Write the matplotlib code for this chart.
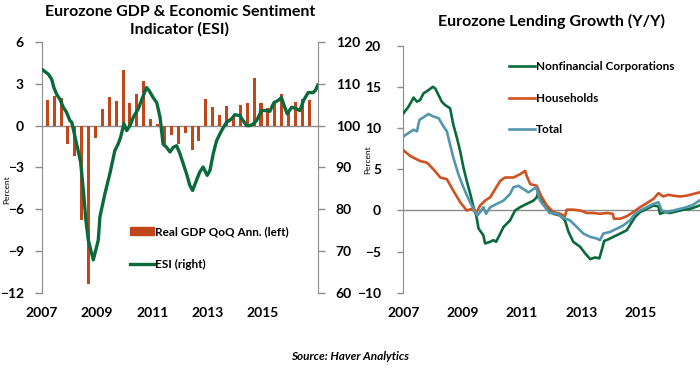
import matplotlib
matplotlib.use("Agg")
import matplotlib.pyplot as plt
from matplotlib.patches import Patch
from matplotlib.lines import Line2D
import numpy as np

# ---- data: real GDP, quarterly annualised % (left axis) ----
gdp_start = 2007.19
gdp_qoq = [1.85, 2.15, 2.0, -1.35, -2.18, -6.8, -11.35, -0.9,
           1.2, 2.07, 1.76, 4.0, 1.64, 2.29, 3.2, 0.5,
           0.1, -1.29, -0.69, -1.29, -0.52, -1.76, -1.12, 1.92,
           1.3, 0.73, 1.42, 0.6, 1.51, 1.63, 3.39, 1.61,
           1.25, 1.65, 2.28, 1.08, 1.72, 1.88, 1.85]

# ---- data: Economic Sentiment Indicator (right axis) ----
esi_date = [2007.03, 2007.23, 2007.35, 2007.43, 2007.53, 2007.65, 2007.77, 2007.89,
            2008.01, 2008.08, 2008.20, 2008.32, 2008.40, 2008.50, 2008.59, 2008.68,
            2008.86, 2009.04, 2009.10, 2009.28, 2009.46, 2009.64, 2009.76, 2009.85,
            2009.97, 2010.07, 2010.19, 2010.31, 2010.49, 2010.67, 2010.79, 2010.89,
            2011.03, 2011.16, 2011.28, 2011.39, 2011.52, 2011.64, 2011.76, 2011.88,
            2012.00, 2012.12, 2012.24, 2012.36, 2012.46, 2012.60, 2012.72, 2012.84,
            2012.99, 2013.09, 2013.21, 2013.33, 2013.51, 2013.69, 2013.87, 2013.99,
            2014.17, 2014.29, 2014.42, 2014.54, 2014.66, 2014.78, 2014.96, 2015.14,
            2015.26, 2015.41, 2015.56, 2015.68, 2015.78, 2015.89, 2016.05, 2016.23,
            2016.35, 2016.49, 2016.65, 2016.83, 2016.92, 2017.0]
esi = [113.3, 112.3, 111.1, 109.1, 107.5, 106.3, 104.4, 103.2,
       101.2, 100.8, 97.2, 93.7, 91.3, 84.5, 77.4, 72.6,
       67.9, 72.6, 78.2, 83.7, 88.5, 94.0, 95.6, 97.2,
       100.5, 98.8, 100.0, 102.0, 104.0, 107.1, 109.1, 108.3,
       106.7, 105.5, 102.0, 95.6, 94.8, 93.7, 94.8, 95.2,
       93.3, 90.9, 88.5, 85.7, 84.5, 86.9, 88.9, 90.1,
       88.1, 89.3, 93.3, 96.4, 98.8, 100.8, 101.6, 102.6,
       102.4, 101.2, 100.0, 100.0, 100.4, 101.2, 103.6, 103.6,
       103.4, 105.5, 106.0, 106.7, 104.8, 102.8, 104.4, 104.0,
       103.6, 106.1, 107.9, 107.9, 108.5, 109.7]

# ---- data: lending growth Y/Y % ----
nfc_date = [2007.01, 2007.18, 2007.35, 2007.46, 2007.57, 2007.68, 2007.85, 2008.00,
            2008.08, 2008.19, 2008.30, 2008.41, 2008.58, 2008.69, 2008.81, 2008.92,
            2009.03, 2009.14, 2009.26, 2009.37, 2009.46, 2009.54, 2009.70, 2009.76,
            2009.93, 2010.04, 2010.13, 2010.27, 2010.38, 2010.60, 2010.77, 2010.94,
            2011.16, 2011.39, 2011.50, 2011.56, 2011.72, 2011.84, 2012.06, 2012.29,
            2012.45, 2012.57, 2012.73, 2012.96, 2013.13, 2013.30, 2013.46, 2013.61,
            2013.69, 2013.77, 2013.91, 2014.08, 2014.31, 2014.53, 2014.67, 2014.81,
            2014.98, 2015.21, 2015.43, 2015.60, 2015.65, 2015.82, 2015.99, 2016.22,
            2016.44, 2016.66, 2016.83, 2016.98]
nfc = [11.8, 12.6, 13.7, 13.2, 13.4, 14.2, 14.6, 15.0,
       14.8, 14.0, 13.2, 12.8, 12.4, 10.4, 8.8, 7.2,
       5.2, 3.6, 2.0, 0.4, -0.6, -2.2, -3.0, -4.0,
       -3.8, -3.6, -3.8, -2.8, -2.0, -1.2, 0.0, 0.4,
       0.8, 1.2, 1.6, 2.4, 1.0, 0.4, -0.4, -0.6,
       -1.2, -2.6, -3.8, -4.4, -5.2, -5.9, -5.7, -5.8,
       -4.8, -3.7, -3.5, -3.2, -2.8, -2.4, -1.6, -0.8,
       -0.2, 0.2, 0.6, 0.5, -0.4, -0.2, -0.3, -0.1,
       0.1, 0.2, 0.4, 0.6]

hh_date = [2007.01, 2007.24, 2007.57, 2007.80, 2008.02, 2008.25, 2008.47, 2008.69,
           2008.92, 2009.14, 2009.31, 2009.46, 2009.59, 2009.76, 2009.93, 2010.10,
           2010.27, 2010.43, 2010.71, 2010.94, 2011.11, 2011.16, 2011.28, 2011.50,
           2011.61, 2011.84, 2012.06, 2012.29, 2012.45, 2012.51, 2012.73, 2012.96,
           2013.19, 2013.41, 2013.63, 2013.86, 2014.06, 2014.10, 2014.31, 2014.53,
           2014.75, 2014.98, 2015.21, 2015.43, 2015.60, 2015.76, 2015.93, 2016.10,
           2016.33, 2016.55, 2016.77, 2016.98]
households = [7.3, 6.6, 6.0, 5.8, 5.0, 4.0, 3.8, 2.4,
              1.0, 0.0, 0.2, -0.3, 0.6, 1.2, 1.6, 2.6,
              3.6, 4.0, 4.0, 4.4, 4.8, 4.2, 3.2, 3.0,
              2.0, 0.6, -0.2, -0.4, -0.7, 0.1, 0.1, 0.0,
              -0.3, -0.3, -0.4, -0.3, -0.4, -1.0, -1.0, -0.7,
              -0.2, 0.4, 0.9, 1.4, 2.1, 1.7, 1.9, 1.8,
              1.7, 1.8, 2.0, 2.2]

tot_date = [2007.01, 2007.18, 2007.35, 2007.46, 2007.55, 2007.68, 2007.85, 2008.02,
            2008.19, 2008.36, 2008.47, 2008.58, 2008.69, 2008.86, 2009.03, 2009.20,
            2009.37, 2009.50, 2009.59, 2009.70, 2009.79, 2009.93, 2010.15, 2010.38,
            2010.60, 2010.71, 2010.88, 2011.05, 2011.22, 2011.39, 2011.48, 2011.61,
            2011.78, 2011.93, 2012.18, 2012.40, 2012.62, 2012.85, 2013.07, 2013.30,
            2013.52, 2013.63, 2013.74, 2013.97, 2014.20, 2014.42, 2014.64, 2014.81,
            2014.98, 2015.21, 2015.43, 2015.60, 2015.71, 2015.88, 2016.10, 2016.33,
            2016.55, 2016.77, 2016.98]
total = [9.0, 9.4, 9.8, 9.6, 11.0, 11.3, 11.7, 11.4,
         11.2, 10.2, 9.6, 8.0, 6.4, 4.4, 2.8, 1.4,
         0.2, -0.6, -0.2, 0.4, -0.4, 0.4, 0.8, 1.2,
         2.0, 2.8, 3.0, 2.6, 2.2, 2.6, 2.8, 1.2,
         0.4, -0.3, -0.4, -0.9, -1.2, -2.0, -2.8, -3.2,
         -3.4, -3.6, -2.8, -2.6, -2.2, -1.8, -1.2, -0.4,
         0.0, 0.4, 0.8, 1.0, 0.0, -0.2, 0.0, 0.2,
         0.4, 0.7, 1.2]

year_ticks = [2007, 2009, 2011, 2013, 2015]
gdp_ticks = [6, 3, 0, -3, -6, -9, -12]
esi_ticks = [120, 110, 100, 90, 80, 70, 60]
lend_ticks = [20, 15, 10, 5, 0, -5, -10]

GREEN = "#0a6a3c"
ORANGE = "#cf5220"
BAR = "#c0461b"
TEAL = "#5297ad"
GRAY = "#8c8c8c"

plt.rcParams["font.family"] = ["Lato", "DejaVu Sans"]
plt.rcParams["font.weight"] = "bold"

fig = plt.figure(figsize=(7.0, 3.68), dpi=100)

# ===== left panel: GDP & ESI =====
ax = fig.add_axes([0.06, 0.204, 0.394, 0.682])
dates = gdp_start + 0.25 * np.arange(len(gdp_qoq))
ax.bar(dates, gdp_qoq, width=0.11, color=BAR, zorder=2)
ax.axhline(0, color=GRAY, lw=1, zorder=1)
ax.set_xlim(2007, 2017)
ax.set_ylim(-12, 6)
ax.set_yticks(gdp_ticks)
ax.set_xticks(year_ticks)
ax.set_ylabel("Percent", fontsize=6)
ax.yaxis.set_label_coords(-0.115, 0.41)

ax2 = ax.twinx()
ax2.plot(esi_date, esi, color=GREEN, lw=2.4, zorder=3)
ax2.set_ylim(60, 120)
ax2.set_yticks(esi_ticks)

for a in (ax, ax2):
    for s in ("top", "bottom"):
        a.spines[s].set_visible(False)
    a.spines["left"].set_color(GRAY)
    a.spines["right"].set_color(GRAY)
    a.tick_params(axis="y", colors=GRAY, length=5, width=1, labelsize=10,
                  labelcolor="black", pad=8)
    a.tick_params(axis="x", length=0, labelsize=10, pad=10)
ax.spines["right"].set_visible(False)
ax2.spines["left"].set_visible(False)

ax.set_title("Eurozone GDP & Economic Sentiment\nIndicator (ESI)",
             fontsize=11.5, fontweight="bold", pad=6, linespacing=1.3)

handles = [Patch(color=BAR, label="Real GDP QoQ Ann. (left)"),
           Line2D([], [], color=GREEN, lw=2.4, label="ESI (right)")]
ax2.legend(handles=handles, loc="upper left", bbox_to_anchor=(130 / 700, 1 - 226 / 368),
           bbox_transform=fig.transFigure, frameon=False, fontsize=8.5,
           handlelength=2.0, handletextpad=0.15, labelspacing=1.9,
           borderpad=0, borderaxespad=0)

# ===== right panel: lending growth =====
bx = fig.add_axes([0.576, 0.204, 0.424, 0.672])
bx.axhline(0, color=GRAY, lw=1, zorder=1)
bx.plot(nfc_date, nfc, color=GREEN, lw=1.9, label="Nonfinancial Corporations", zorder=3)
bx.plot(hh_date, households, color=ORANGE, lw=1.9, label="Households", zorder=3)
bx.plot(tot_date, total, color=TEAL, lw=1.9, label="Total", zorder=3)
bx.set_xlim(2007, 2017)
bx.set_ylim(-10, 20)
bx.set_yticks(lend_ticks)
bx.set_xticks(year_ticks)
bx.set_ylabel("Percent", fontsize=6)
bx.yaxis.set_label_coords(-0.108, 0.54)
for s in ("top", "bottom", "right"):
    bx.spines[s].set_visible(False)
bx.spines["left"].set_color(GRAY)
bx.tick_params(axis="y", colors=GRAY, length=4, width=1, labelsize=10,
               labelcolor="black", pad=12)
bx.tick_params(axis="x", length=0, labelsize=10, pad=10)
bx.set_title("Eurozone Lending Growth (Y/Y)", fontsize=11.5, fontweight="bold", pad=14)
bx.legend(loc="upper left", bbox_to_anchor=(509 / 700, 1 - 61 / 368),
          bbox_transform=fig.transFigure, frameon=False, fontsize=8.5,
          handlelength=2.2, handletextpad=0.1, labelspacing=1.75,
          borderpad=0, borderaxespad=0)

fig.text(0.5, 1 - 357 / 368, "Source: Haver Analytics", ha="center", va="center",
         fontsize=8.5, fontweight="bold", style="italic")

fig.savefig("out.png", dpi=100)
